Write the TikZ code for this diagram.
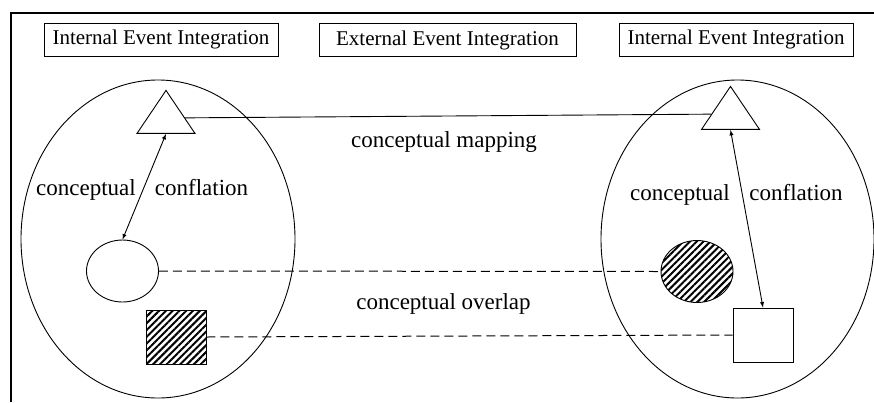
\documentclass[tikz,border=0pt]{standalone}
\usepackage{fontspec}
\setmainfont{Liberation Serif}
\usetikzlibrary{shapes.geometric,patterns.meta}

\tikzset{
  headbox/.style={draw, line width=0.8pt, minimum height=33pt, inner sep=0pt, font=\fontsize{21}{21}\selectfont},
  lbl/.style={anchor=base, inner sep=0pt, font=\fontsize{23}{23}\selectfont},
  realm/.style={draw, ellipse, line width=0.9pt, inner sep=0pt},
  conceptnode/.style={draw, isosceles triangle, shape border rotate=90, isosceles triangle stretches,
    minimum width=58pt, minimum height=43pt, inner sep=0pt, line width=0.9pt, fill=white},
  eventnode/.style={draw, ellipse, minimum width=72pt, minimum height=62pt, inner sep=0pt, line width=0.9pt},
  squarebox/.style={draw, rectangle, minimum width=60pt, minimum height=54pt, inner sep=0pt, line width=0.9pt},
  hatched/.style={pattern={Lines[angle=45, distance=4.8pt, line width=2pt]}},
  overlap/.style={dash pattern=on 9pt off 5pt, line width=1pt},
}

\begin{document}
\begin{tikzpicture}[x=1pt, y=-1pt]
  \useasboundingbox (0,0) rectangle (874,402);
  % outer frame, only top and left side visible
  \draw[line width=1.2pt] (11,402) -- (11,13) -- (874,13);

  % headings
  \node[headbox, minimum width=234pt] (headL) at (161,39.5) {Internal Event Integration};
  \node[headbox, minimum width=257pt] (headM) at (447.5,40) {External Event Integration};
  \node[headbox, minimum width=234pt] (headR) at (736,39.5) {Internal Event Integration};

  % the two event domains
  \node[realm, minimum width=274pt, minimum height=318pt] (realmL) at (158,239) {};
  \node[realm, minimum width=273pt, minimum height=318pt] (realmR) at (737.5,239) {};

  % concepts
  \node[conceptnode] (triL) at (166,118) {};
  \node[conceptnode] (triR) at (730.5,114) {};
  \node[eventnode] (evL) at (122.5,271) {};
  \node[eventnode, hatched] (evR) at (697,271.5) {};
  \node[squarebox, hatched] (boxL) at (176,337) {};
  \node[squarebox] (boxR) at (763,335) {};

  % connectors
  \draw[line width=0.9pt] (triL) -- (triR);
  \draw[<->, >=latex, line width=0.9pt] (triL.south) -- (evL.north);
  \draw[<->, >=latex, line width=0.9pt] (triR.south) -- (boxR.north);
  \draw[overlap] (evL.east) -- (evR.west);
  \draw[overlap] (boxL.east) -- (boxR.west);

  % labels
  \node[lbl] (mapLbl) at (444,147) {conceptual mapping};
  \node[lbl] (ovLbl) at (443.5,309) {conceptual overlap};
  \node[lbl] (cLa) at (86,195) {conceptual};
  \node[lbl] (cLb) at (201.5,195) {conflation};
  \node[lbl] (cRa) at (680,200) {conceptual};
  \node[lbl] (cRb) at (796,200) {conflation};
\end{tikzpicture}
\end{document}
